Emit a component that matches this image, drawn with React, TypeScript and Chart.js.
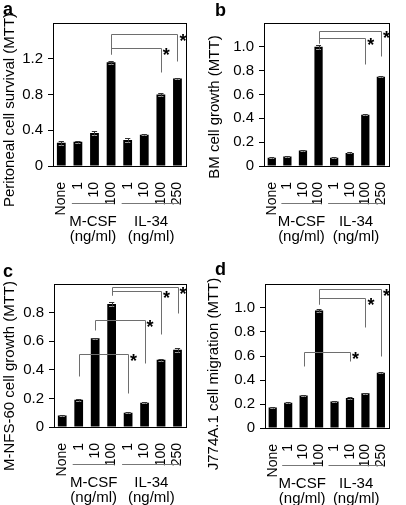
import React, { useEffect, useRef } from 'react';
import { Chart, registerables } from 'chart.js';
Chart.register(...registerables);

const FONT = "'Liberation Sans', Arial, Helvetica, sans-serif";

// ---- shared categories ----
const categories = ['None', '1', '10', '100', '1', '10', '100', '250'];
const groupNames = ['M-CSF', 'IL-34'];
const groupFirst = [1, 4];
const groupLast = [3, 7];
const unitLabel = '(ng/ml)';

// ---- panel a ----
const valuesA = [0.26, 0.27, 0.37, 1.16, 0.29, 0.35, 0.8, 0.98];
const errorsA = [0.02, 0.01, 0.02, 0.02, 0.02, 0.005, 0.015, 0.01];
const ticksA = [0, 0.4, 0.8, 1.2];
const maxA = 1.6;
const bracketsA = [
  { from: 3, to: 7, top: 1.48, left: 1.25, right: 1.17 },
  { from: 3, to: 6, top: 1.32, left: 1.25, right: 1.05 },
];

// ---- panel b ----
const valuesB = [0.07, 0.08, 0.13, 1.0, 0.07, 0.11, 0.43, 0.75];
const errorsB = [0.005, 0.005, 0.005, 0.015, 0.005, 0.005, 0.005, 0.005];
const ticksB = [0, 0.2, 0.4, 0.6, 0.8, 1.0];
const maxB = 1.2;
const bracketsB = [
  { from: 3, to: 7, top: 1.13, left: 1.03, right: 0.92 },
  { from: 3, to: 6, top: 1.07, left: 1.03, right: 0.86 },
];

// ---- panel c ----
const valuesC = [0.08, 0.19, 0.62, 0.86, 0.1, 0.17, 0.47, 0.54];
const errorsC = [0.005, 0.005, 0.005, 0.015, 0.005, 0.005, 0.005, 0.015];
const ticksC = [0, 0.2, 0.4, 0.6, 0.8];
const maxC = 1.0;
const bracketsC = [
  { from: 3, to: 7, top: 0.98, left: 0.92, right: 0.8 },
  { from: 3, to: 6, top: 0.95, left: 0.92, right: 0.65 },
  { from: 2, to: 5, top: 0.75, left: 0.68, right: 0.45 },
  { from: 1, to: 4, top: 0.51, left: 0.36, right: 0.235 },
];

// ---- panel d ----
const valuesD = [0.17, 0.21, 0.27, 0.98, 0.22, 0.25, 0.29, 0.46];
const errorsD = [0.005, 0.005, 0.005, 0.01, 0.005, 0.005, 0.005, 0.005];
const ticksD = [0, 0.2, 0.4, 0.6, 0.8, 1.0];
const maxD = 1.2;
const bracketsD = [
  { from: 3, to: 7, top: 1.16, left: 1.03, right: 0.6 },
  { from: 3, to: 6, top: 1.08, left: 1.03, right: 0.84 },
  { from: 2, to: 5, top: 0.63, left: 0.52, right: 0.56 },
];

type Bracket = { from: number; to: number; top: number; left: number; right: number };
type Panel = {
  letter: string;
  title: string;
  values: number[];
  errors: number[];
  ticks: number[];
  max: number;
  brackets: Bracket[];
  box: { left: number; top: number; w: number; h: number };
  plot: { left: number; right: number; top: number; bottom: number };
  letterPos: [number, number];
  titlePos: [number, number];
};

const panels: Panel[] = [
  {
    letter: 'a', title: 'Peritoneal cell survival (MTT)', values: valuesA, errors: errorsA,
    ticks: ticksA, max: maxA, brackets: bracketsA,
    box: { left: 0, top: 0, w: 203, h: 250 },
    plot: { left: 53, right: 191, top: 23, bottom: 166 },
    letterPos: [3, 15], titlePos: [10, 110],
  },
  {
    letter: 'b', title: 'BM cell growth (MTT)', values: valuesB, errors: errorsB,
    ticks: ticksB, max: maxB, brackets: bracketsB,
    box: { left: 203, top: 0, w: 203, h: 250 },
    plot: { left: 61, right: 198, top: 23, bottom: 166 },
    letterPos: [12, 16], titlePos: [12, 107],
  },
  {
    letter: 'c', title: 'M-NFS-60 cell growth (MTT)', values: valuesC, errors: errorsC,
    ticks: ticksC, max: maxC, brackets: bracketsC,
    box: { left: 0, top: 250, w: 203, h: 255 },
    plot: { left: 54, right: 192, top: 34, bottom: 177 },
    letterPos: [3, 27], titlePos: [10, 126],
  },
  {
    letter: 'd', title: 'J774A.1 cell migration (MTT)', values: valuesD, errors: errorsD,
    ticks: ticksD, max: maxD, brackets: bracketsD,
    box: { left: 203, top: 250, w: 203, h: 255 },
    plot: { left: 62, right: 198, top: 34, bottom: 178 },
    letterPos: [12, 25], titlePos: [11, 124],
  },
];

const h = (v: number) => Math.round(v) + 0.5;

function decorPlugin(p: Panel) {
  return {
    id: 'decor' + p.letter,
    afterDatasetsDraw(chart: any) {
      const { ctx, scales } = chart;
      const y = scales.y;
      const meta = chart.getDatasetMeta(0);
      ctx.save();
      ctx.lineWidth = 1;
      meta.data.forEach((bar: any, i: number) => {
        const v = p.values[i];
        const e = p.errors[i];
        const yT = h(y.getPixelForValue(v + e));
        const yB = h(y.getPixelForValue(v - e));
        const half = bar.width * 0.3;
        ctx.strokeStyle = '#9a9a9a';
        ctx.beginPath();
        ctx.moveTo(bar.x - half, yB);
        ctx.lineTo(bar.x + half, yB);
        ctx.stroke();
        ctx.strokeStyle = '#333';
        ctx.beginPath();
        ctx.moveTo(h(bar.x), yB);
        ctx.lineTo(h(bar.x), yT);
        ctx.moveTo(bar.x - half, yT);
        ctx.lineTo(bar.x + half, yT);
        ctx.stroke();
      });
      ctx.restore();
    },
    afterDraw(chart: any) {
      const { ctx, chartArea: ca, scales } = chart;
      const x = scales.x;
      const y = scales.y;
      ctx.save();
      // plot frame
      ctx.strokeStyle = '#000';
      ctx.lineWidth = 1;
      ctx.strokeRect(h(ca.left), h(ca.top), Math.round(ca.right - ca.left), Math.round(ca.bottom - ca.top));

      // significance brackets
      ctx.strokeStyle = '#6e6e6e';
      p.brackets.forEach((b) => {
        const x1 = h(x.getPixelForValue(b.from));
        const x2 = h(x.getPixelForValue(b.to));
        const yt = h(y.getPixelForValue(b.top));
        ctx.beginPath();
        ctx.moveTo(x1, h(y.getPixelForValue(b.left)));
        ctx.lineTo(x1, yt);
        ctx.lineTo(x2, yt);
        ctx.lineTo(x2, h(y.getPixelForValue(b.right)));
        ctx.stroke();
      });
      ctx.fillStyle = '#000';
      ctx.font = `bold 18px ${FONT}`;
      ctx.textAlign = 'left';
      ctx.textBaseline = 'alphabetic';
      p.brackets.forEach((b) => {
        const x2 = x.getPixelForValue(b.to);
        const yt = y.getPixelForValue(b.top);
        ctx.fillText('*', x2 + 2, yt + 13);
      });

      // group underlines and labels
      const lineY = h(ca.bottom + 37);
      groupNames.forEach((name, g) => {
        const xa = x.getPixelForValue(groupFirst[g]) - 6;
        const xb = x.getPixelForValue(groupLast[g]) + 3;
        ctx.strokeStyle = '#777';
        ctx.beginPath();
        ctx.moveTo(xa, lineY);
        ctx.lineTo(xb, lineY);
        ctx.stroke();
        const cx = (xa + xb) / 2;
        ctx.fillStyle = '#000';
        ctx.font = `15px ${FONT}`;
        ctx.textAlign = 'center';
        ctx.fillText(name, cx, ca.bottom + 60);
        ctx.fillText(unitLabel, cx, ca.bottom + 75);
      });

      // y-axis title
      ctx.save();
      ctx.translate(p.titlePos[0], p.titlePos[1]);
      ctx.rotate(-Math.PI / 2);
      ctx.font = `15px ${FONT}`;
      ctx.textAlign = 'center';
      ctx.textBaseline = 'middle';
      ctx.fillText(p.title, 0, 0);
      ctx.restore();

      // panel letter
      ctx.font = `bold 18px ${FONT}`;
      ctx.textAlign = 'left';
      ctx.textBaseline = 'alphabetic';
      ctx.fillText(p.letter, p.letterPos[0], p.letterPos[1]);
      ctx.restore();
    },
  };
}

function PanelChart({ p }: { p: Panel }) {
  const ref = useRef<HTMLCanvasElement | null>(null);
  useEffect(() => {
    if (!ref.current) return;
    const chart = new Chart(ref.current, {
      type: 'bar',
      data: {
        labels: categories,
        datasets: [
          {
            data: p.values,
            backgroundColor: '#000',
            borderWidth: 0,
            barPercentage: 0.53,
            categoryPercentage: 1,
          },
        ],
      },
      options: {
        animation: false,
        responsive: false,
        maintainAspectRatio: false,
        devicePixelRatio: 1,
        layout: { padding: { top: p.plot.top, right: p.box.w - p.plot.right, bottom: 0, left: 0 } },
        plugins: { legend: { display: false }, tooltip: { enabled: false } },
        scales: {
          x: {
            grid: { display: false },
            border: { display: false },
            ticks: {
              autoSkip: false,
              minRotation: 90,
              maxRotation: 90,
              padding: 8,
              color: '#000',
              font: { size: 14, family: FONT },
            },
            afterFit: (s: any) => {
              s.height = p.box.h - p.plot.bottom;
            },
          },
          y: {
            min: 0,
            max: p.max,
            grid: { drawOnChartArea: false, drawTicks: true, tickLength: 5, color: '#000' },
            border: { display: false },
            ticks: {
              padding: 5,
              color: '#000',
              font: { size: 15, family: FONT },
              callback: (v: any) => (Number(v) === 0 ? '0' : Number(v).toFixed(1)),
            },
            afterBuildTicks: (s: any) => {
              s.ticks = p.ticks.map((v) => ({ value: v }));
            },
            afterFit: (s: any) => {
              s.width = p.plot.left;
            },
          },
        },
      } as any,
      plugins: [decorPlugin(p)],
    });
    return () => chart.destroy();
  }, [p]);
  return (
    <canvas
      ref={ref}
      width={p.box.w}
      height={p.box.h}
      style={{ position: 'absolute', left: p.box.left, top: p.box.top, width: p.box.w, height: p.box.h }}
    />
  );
}

export default function App() {
  return (
    <div style={{ position: 'absolute', left: 0, top: 0, width: 406, height: 505, background: '#fff', overflow: 'hidden' }}>
      {panels.map((p) => (
        <PanelChart key={p.letter} p={p} />
      ))}
    </div>
  );
}
